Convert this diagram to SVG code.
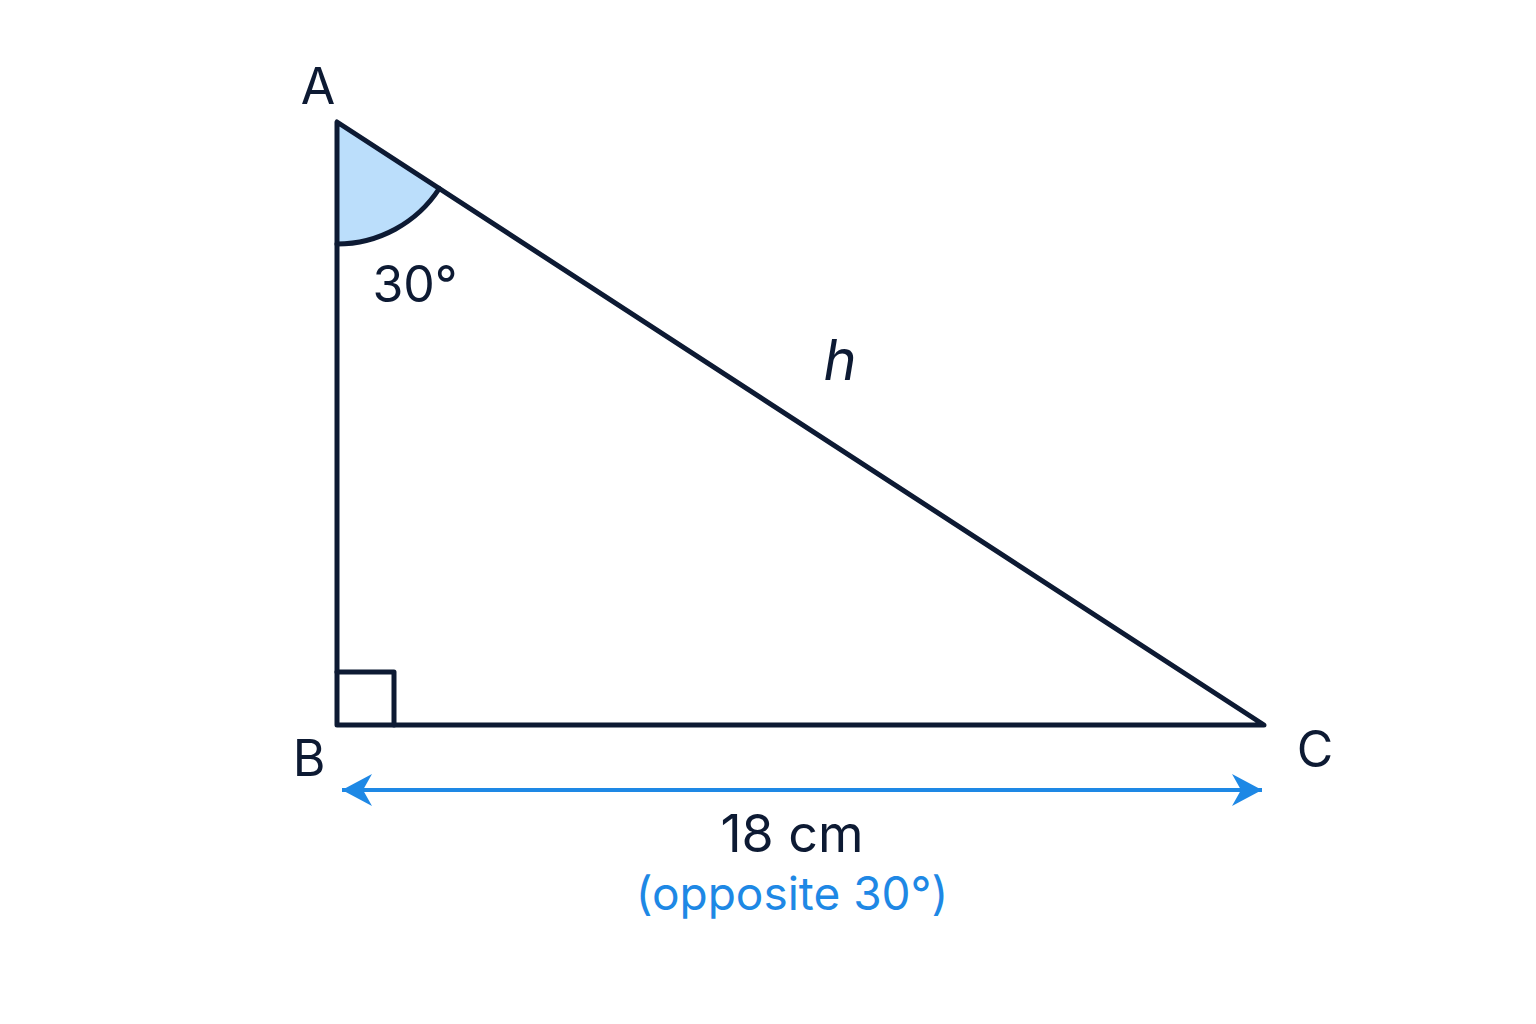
<svg xmlns="http://www.w3.org/2000/svg" width="1536" height="1024" viewBox="0 0 1536 1024">
<style>
.ln{stroke:#0d1a33;stroke-width:5;fill:none;stroke-linejoin:round;stroke-linecap:round}
.lbl{font-family:Inter,"Noto Sans","Liberation Sans",sans-serif;fill:#0d1a33}
.blue{fill:#1e88e5}
</style>
<defs>
<marker id="ah" viewBox="0 0 32 32" refX="30" refY="16" markerWidth="32" markerHeight="32" markerUnits="userSpaceOnUse" orient="auto-start-reverse">
<path d="M30,16 L0,0 L9,16 L0,32 Z" fill="#1e88e5"/>
</marker>
</defs>
<rect width="1536" height="1024" fill="#ffffff"/>
<g id="angleA">
<path d="M337,122 L337,244 A122,122 0 0 0 439.3,188.5 Z" fill="#bbdefb"/>
<path d="M337,244 A122,122 0 0 0 439.3,188.5" class="ln" stroke-width="4"/>
</g>
<g id="rightAngleB">
<path d="M337,672 L394,672 L394,725" class="ln" stroke-width="4"/>
</g>
<g id="triangle">
<path d="M337,122 L337,725 L1264,725 Z" class="ln"/>
</g>
<g id="connectors">
<line x1="342" y1="790" x2="1262" y2="790" stroke="#1e88e5" stroke-width="4" marker-start="url(#ah)" marker-end="url(#ah)"/>
</g>
<g id="labels">
<text x="318" y="104" class="lbl" font-size="50" text-anchor="middle">A</text>
<text x="309" y="776" class="lbl" font-size="50" text-anchor="middle">B</text>
<text x="1315" y="767" class="lbl" font-size="50" text-anchor="middle">C</text>
<text x="415" y="302" class="lbl" font-size="50" text-anchor="middle">30°</text>
<text x="840" y="380" class="lbl" font-size="56" font-style="italic" text-anchor="middle">h</text>
<text x="792" y="852" class="lbl" font-size="52" text-anchor="middle">18 cm</text>
<text x="792" y="910" class="lbl blue" font-size="46" text-anchor="middle">(opposite 30°)</text>
</g>
</svg>
